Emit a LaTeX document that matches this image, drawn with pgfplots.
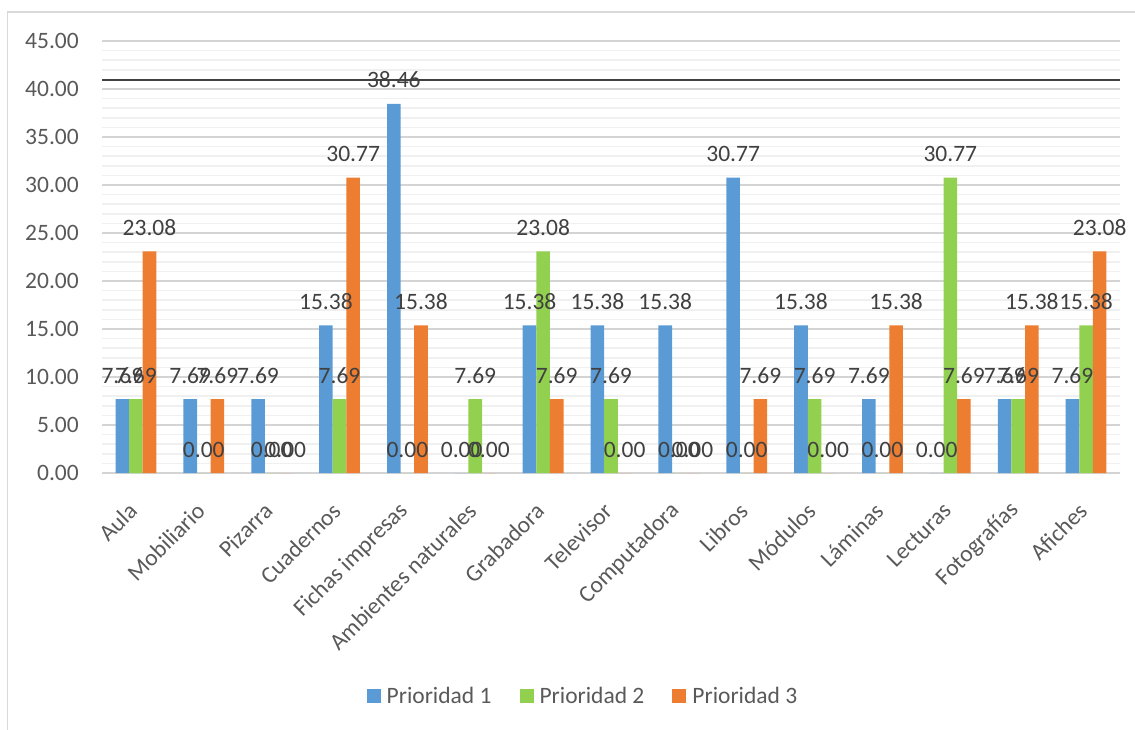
\documentclass[border=0pt]{standalone}
\usepackage{fontspec}
\setmainfont{Carlito}
\usepackage{pgfplots}
\pgfplotsset{compat=1.18}
\usepackage{pgfplotstable}
\definecolor{cA}{HTML}{5B9BD5}
\definecolor{cB}{HTML}{92D050}
\definecolor{cC}{HTML}{ED7D31}
\definecolor{tickc}{HTML}{595959}
\definecolor{labc}{HTML}{404040}
\pgfplotstableread{
x p1 p2 p3
0 7.69 7.69 23.08
1 7.69 0.00 7.69
2 7.69 0.00 0.00
3 15.38 7.69 30.77
4 38.46 0.00 15.38
5 0.00 7.69 0.00
6 15.38 23.08 7.69
7 15.38 7.69 0.00
8 15.38 0.00 0.00
9 30.77 0.00 7.69
10 15.38 7.69 0.00
11 7.69 0.00 15.38
12 0.00 30.77 7.69
13 7.69 7.69 15.38
14 7.69 15.38 23.08
}\datatable
\newcommand{\bigf}{\fontsize{23.5}{28}\selectfont}
\begin{document}
\begin{tikzpicture}[x=1pt,y=1pt]
\path[use as bounding box] (0,0) rectangle (1135,729);
\draw[color=black!15, line width=1.5pt] (7.5,-2) -- (7.5,717) -- (1137,717);
\begin{axis}[
  at={(102pt,256pt)}, anchor=south west,
  scale only axis, width=1018pt, height=432pt,
  xmin=-0.5, xmax=14.5, ymin=0, ymax=45,
  ybar=0pt, bar width=13.6pt,
  ytick={0,5,...,45}, minor y tick num=4,
  ymajorgrids, yminorgrids,
  major grid style={color=black!17, line width=1.3pt},
  minor grid style={color=black!6, line width=1.5pt},
  axis line style={draw=none},
  tick style={draw=none},
  major tick length=0pt, minor tick length=0pt,
  xtick={0,...,14},
  xticklabels={Aula,Mobiliario,Pizarra,Cuadernos,Fichas impresas,Ambientes naturales,Grabadora,Televisor,Computadora,Libros,Módulos,Láminas,Lecturas,Fotografías,Afiches},
  xticklabel style={font=\bigf, color=tickc, yshift=-34pt, xshift=-3pt, rotate=45, anchor=east, inner sep=0pt},
  yticklabel style={font=\bigf, color=tickc, anchor=east, inner sep=0pt, xshift=-23pt,
    /pgf/number format/.cd, fixed, fixed zerofill, precision=2, assume math mode=true},
  scaled y ticks=false,
  nodes near coords={\pgfmathprintnumber[fixed,fixed zerofill,precision=2,assume math mode=true]{\pgfplotspointmeta}},
  every node near coord/.append style={font=\bigf, color=labc, anchor=base, inner sep=0pt, yshift=16pt},
  legend columns=3,
  legend image code/.code={\fill[#1] (0pt,-7pt) rectangle (14pt,7pt);},
  legend style={draw=none, fill=none, at={(0.4715,-0.516)}, anchor=center, font=\bigf, text=tickc,
    nodes={inner sep=0pt, anchor=west},
    /tikz/every odd column/.append style={column sep=6pt},
    /tikz/every even column/.append style={column sep=28pt}},
]
\addplot[fill=cA, draw=none] table[x=x, y=p1] {\datatable};
\addplot[fill=cB, draw=none] table[x=x, y=p2] {\datatable};
\addplot[fill=cC, draw=none] table[x=x, y=p3] {\datatable};
\legend{Prioridad 1, Prioridad 2, Prioridad 3}
\draw[color=labc, line width=2pt] (axis cs:-0.5,40.9) -- (axis cs:14.5,40.9);
\end{axis}
\end{tikzpicture}
\end{document}
